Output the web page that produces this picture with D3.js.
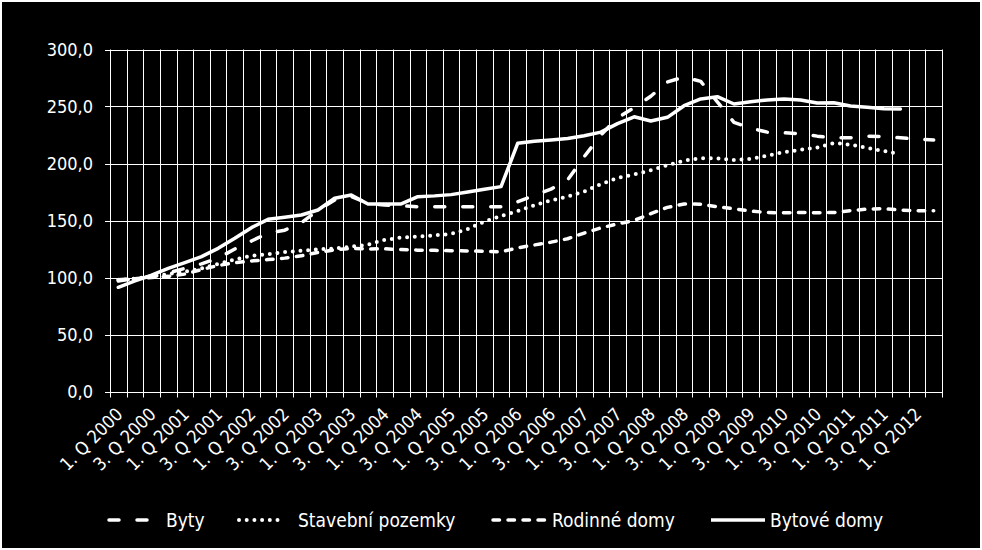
<!DOCTYPE html>
<html><head><meta charset="utf-8">
<script src="https://cdn.jsdelivr.net/npm/d3@7/dist/d3.min.js"></script>
<style>
html,body{margin:0;padding:0;background:#fff;}
svg{display:block;}
text{font-family:"DejaVu Sans Condensed","DejaVu Sans",sans-serif;fill:#fff;}
</style></head>
<body>
<svg id="chart" width="982" height="550"></svg>
<script>
const categories = [
"1. Q 2000","2. Q 2000","3. Q 2000","4. Q 2000",
"1. Q 2001","2. Q 2001","3. Q 2001","4. Q 2001",
"1. Q 2002","2. Q 2002","3. Q 2002","4. Q 2002",
"1. Q 2003","2. Q 2003","3. Q 2003","4. Q 2003",
"1. Q 2004","2. Q 2004","3. Q 2004","4. Q 2004",
"1. Q 2005","2. Q 2005","3. Q 2005","4. Q 2005",
"1. Q 2006","2. Q 2006","3. Q 2006","4. Q 2006",
"1. Q 2007","2. Q 2007","3. Q 2007","4. Q 2007",
"1. Q 2008","2. Q 2008","3. Q 2008","4. Q 2008",
"1. Q 2009","2. Q 2009","3. Q 2009","4. Q 2009",
"1. Q 2010","2. Q 2010","3. Q 2010","4. Q 2010",
"1. Q 2011","2. Q 2011","3. Q 2011","4. Q 2011",
"1. Q 2012","2. Q 2012"];
const tickLabels = categories.filter((d,i)=>i%2===0);
const yTicks = [0,50,100,150,200,250,300];

const byty = [97,99,101,104,108,112,117,125,132,139,141.5,148,159,168,171,165,163.5,163,162,162,162,162,162,162,166.5,172,177.5,185.5,206,225,240,249,259,271.5,276,272,254,236,231,227.5,227,226,224,222.6,222.6,224,223.5,222.5,221.5,220.6];
const stavebniPozemky = [98,99,101,103,105,108,112,115.8,119,120.5,122.3,123.5,124.6,125.5,127,128.8,133,135,135.8,137,138.2,142.5,149,154,158.3,163.4,167.6,171,175.4,182,187.2,190.5,194,198.5,202.5,204.6,204.5,203,204,206.8,210,212,214,218,216.5,213.6,211,208];
const rodinneDomy = [98,99,100,101,103,107,110.5,113,114.5,115.7,117,119,122,124.3,125.5,125,125.2,124.5,124,123.8,123.5,123.3,123,122.5,126,128.5,131,134,139,143.5,147,150,156,161.5,164.5,164.3,162,160.3,158.3,157,156.8,157,156.8,157,158.7,160,160.4,159.2,158.6,158.6];
const bytoveDomy = [91.4,97,102,108,113,118.3,125.6,134.4,143.7,151,152.8,154.8,159.2,169.5,172.4,164.5,164.5,164.5,170.9,171.6,172.7,175,177.4,179.7,217.7,219.5,220.6,222,224.4,227.5,235,241,237.3,240.5,250.7,256.6,258.6,252.2,254.2,255.7,256.6,255.7,253,253.3,250.4,249.3,248,247.8];

const seriesNames = ["Byty","Stavební pozemky","Rodinné domy","Bytové domy"];
const seriesData = [byty, stavebniPozemky, rodinneDomy, bytoveDomy];
const styles = [
  {w:3.5, dash:"10,18"},
  {w:4, dash:"0,7.7"},
  {w:3.5, dash:"6.5,8.5"},
  {w:3.5, dash:null}
];

const svg = d3.select("#chart");
svg.append("rect").attr("x",2).attr("y",2).attr("width",978).attr("height",546).attr("fill","#000");

const L=110, R=942, T=49.5, B=391.5;
const x = d3.scaleBand().domain(categories).range([L,R]).padding(0);
const y = d3.scaleLinear().domain([0,300]).range([B,T]);
const cx = i => x(categories[i]) + x.bandwidth()/2;

// grid
const g = svg.append("g");
const bounds = categories.map(c=>x(c)).concat([R]);
g.selectAll("line.v").data(bounds).join("line")
  .attr("x1",d=>Math.round(d)+0.5).attr("x2",d=>Math.round(d)+0.5)
  .attr("y1",T).attr("y2",B+6).attr("stroke","#fff").attr("stroke-width",1);
g.selectAll("line.h").data(yTicks).join("line")
  .attr("x1",L-5).attr("x2",R).attr("y1",d=>Math.round(y(d))+0.5).attr("y2",d=>Math.round(y(d))+0.5)
  .attr("stroke","#fff").attr("stroke-width",1);

// y labels
const fmt = d => d3.format(".1f")(d).replace(".",",");
svg.selectAll("text.yl").data(yTicks).join("text")
  .attr("x",93).attr("y",d=>y(d)).attr("dy","0.36em").attr("text-anchor","end")
  .attr("font-size",18).text(fmt);

// x labels
svg.selectAll("text.xl").data(tickLabels).join("text")
  .attr("text-anchor","end").attr("font-size",18)
  .attr("transform",d=>`translate(${x(d)+x.bandwidth()/2+1},${411}) rotate(-45)`)
  .attr("dy","0.35em").text(d=>d);

// lines
const line = d3.line().x((d,i)=>cx(i)).y(d=>y(d));
seriesData.forEach((data,k)=>{
  svg.append("path").datum(data).attr("d",line)
    .attr("fill","none").attr("stroke","#fff")
    .attr("stroke-width",styles[k].w)
    .attr("stroke-linecap","round")
    .attr("stroke-linejoin","round")
    .attr("stroke-dasharray",styles[k].dash);
});

// legend
const legendItems = [
  {x1:109,x2:150,tx:166},
  {x1:239,x2:284,tx:298},
  {x1:493,x2:547,tx:552},
  {x1:711,x2:765,tx:770}
];
const ly = 520;
legendItems.forEach((it,k)=>{
  svg.append("line").attr("x1",it.x1).attr("x2",it.x2).attr("y1",ly).attr("y2",ly)
    .attr("stroke","#fff").attr("stroke-width",styles[k].w)
    .attr("stroke-linecap",styles[k].dash? "round":"butt")
    .attr("stroke-dasharray",styles[k].dash);
  svg.append("text").attr("x",it.tx).attr("y",ly).attr("dy","0.36em")
    .attr("font-size",19).text(seriesNames[k]);
});
</script>
</body></html>
